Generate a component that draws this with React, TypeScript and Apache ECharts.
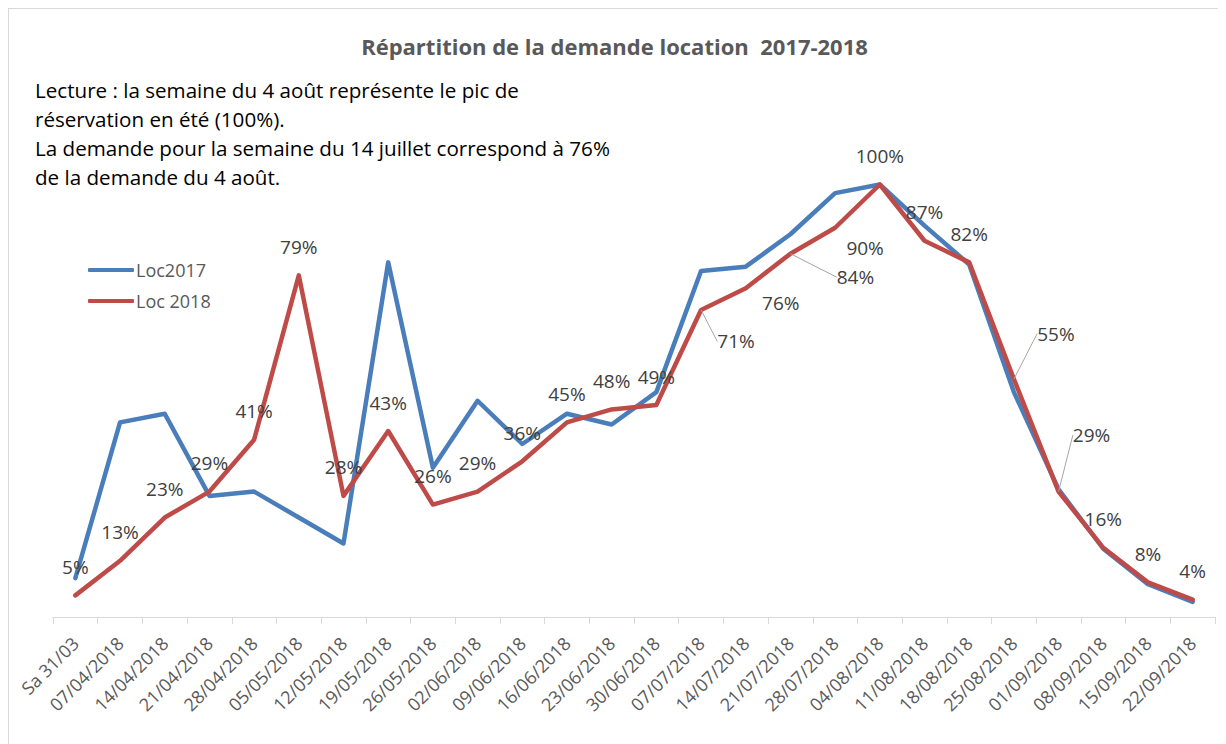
import React, { useEffect, useRef } from "react";
import * as echarts from "echarts";

const categories = [
  "Sa 31/03", "07/04/2018", "14/04/2018", "21/04/2018", "28/04/2018", "05/05/2018",
  "12/05/2018", "19/05/2018", "26/05/2018", "02/06/2018", "09/06/2018", "16/06/2018",
  "23/06/2018", "30/06/2018", "07/07/2018", "14/07/2018", "21/07/2018", "28/07/2018",
  "04/08/2018", "11/08/2018", "18/08/2018", "25/08/2018", "01/09/2018", "08/09/2018",
  "15/09/2018", "22/09/2018",
];

const loc2017 = [
  9, 45, 47, 28, 29, 23, 17, 82, 34.5, 50, 40, 47, 44.5, 52, 80, 81, 88.5, 98, 100, 90.5,
  81.5, 52, 29.5, 15.8, 7.6, 3.5,
];

const loc2018 = [
  5, 13, 23, 29, 41, 79, 28, 43, 26, 29, 36, 45, 48, 49, 71, 76, 84, 90, 100, 87, 82, 55,
  29, 16, 8, 4,
];

// label displacement (dx, dy) relative to default "top" position, for Loc 2018 labels
const labelShift: Record<number, [number, number]> = {
  14: [35, 60],
  15: [35, 43],
  16: [65, 52],
  17: [30, 49],
  21: [42, -17],
  22: [33, -28],
};
const leaderIdx = [14, 16, 21, 22];

const title = "Répartition de la demande location  2017-2018";
const noteLines = [
  "Lecture : la semaine du 4 août représente le pic de",
  "réservation en été (100%).",
  "La demande pour la semaine du 14 juillet correspond à 76%",
  "de la demande du 4 août.",
];

const FONT = "'Open Sans', 'Noto Sans', sans-serif";

export default function App() {
  const ref = useRef<HTMLDivElement>(null);

  useEffect(() => {
    if (!ref.current) return;
    const chart = echarts.init(ref.current, undefined, { renderer: "svg" });
    chart.setOption({
      animation: false,
      backgroundColor: "#ffffff",
      title: {
        text: title,
        left: "center",
        top: 21,
        textStyle: { fontFamily: FONT, fontSize: 22, fontWeight: "bold", color: "#595959" },
      },
      graphic: [
        {
          type: "text",
          left: 26,
          top: 66,
          style: {
            text: noteLines.join("\n"),
            font: `20.6px ${FONT}`,
            lineHeight: 29,
            fill: "#000000",
          },
        },
      ],
      legend: {
        orient: "vertical",
        left: 74,
        top: 247,
        itemWidth: 46,
        itemHeight: 4,
        itemGap: 13,
        icon: "roundRect",
        textStyle: { fontFamily: FONT, fontSize: 18, color: "#595959", padding: [0, 0, 0, -3] },
        data: ["Loc2017", "Loc 2018"],
      },
      grid: { left: 44, right: 5, top: 89, bottom: 128 },
      xAxis: {
        type: "category",
        data: categories,
        boundaryGap: true,
        axisLine: { lineStyle: { color: "#d9d9d9", width: 1 } },
        axisTick: { show: true, length: 7, lineStyle: { color: "#d9d9d9" } },
        axisLabel: {
          rotate: 45,
          interval: 0,
          margin: 23,
          verticalAlign: "middle",
          fontFamily: FONT,
          fontSize: 18,
          color: "#595959",
        },
      },
      yAxis: { type: "value", min: 0, max: 120, show: false, splitLine: { show: false } },
      series: [
        {
          name: "Loc2017",
          type: "line",
          data: loc2017,
          symbol: "none",
          lineStyle: { color: "#4A7EBB", width: 4.5, cap: "round", join: "round" },
          itemStyle: { color: "#4A7EBB" },
          z: 2,
        },
        {
          name: "Loc 2018",
          type: "line",
          data: loc2018.map((v, i) =>
            leaderIdx.includes(i) ? { value: v, labelLine: { show: true } } : v
          ),
          symbol: "circle",
          symbolSize: 0,
          showSymbol: true,
          lineStyle: { color: "#BE4B48", width: 4.5, cap: "round", join: "round" },
          itemStyle: { color: "#BE4B48" },
          z: 3,
          label: {
            show: true,
            position: "top",
            distance: 19,
            formatter: (p: any) => `${p.value}%`,
            fontFamily: FONT,
            fontSize: 19,
            color: "#404040",
          },
          labelLine: {
            show: false,
            lineStyle: { color: "#a6a6a6", width: 1 },
          },
          labelLayout: (params: any) => {
            const s = labelShift[params.dataIndex];
            return s ? { dx: s[0], dy: s[1] } : {};
          },
        },
      ],
    });
    return () => chart.dispose();
  }, []);

  return (
    <div
      ref={ref}
      style={{
        width: 1211,
        height: 736,
        borderTop: "1px solid #d9d9d9",
        borderLeft: "1px solid #d9d9d9",
        borderRight: "1px solid #d9d9d9",
        boxSizing: "content-box",
      }}
    />
  );
}
